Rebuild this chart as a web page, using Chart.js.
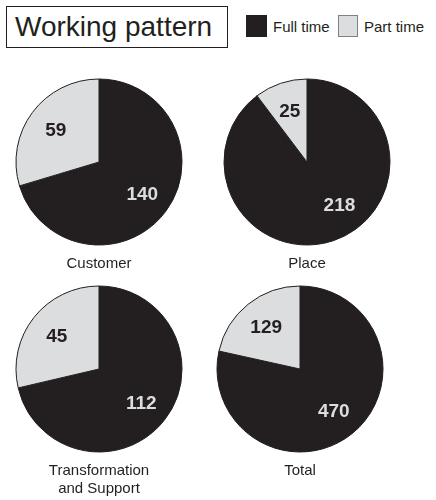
<!DOCTYPE html>
<html lang="en">
<head>
  <meta charset="UTF-8" />
  <title>Working pattern</title>
  <script src="https://cdn.jsdelivr.net/npm/chart.js"></script>
  <style>
    body {
      margin: 0;
      width: 436px;
      height: 500px;
      overflow: hidden;
      background: #ffffff;
      color: #231f20;
      font-family: "Liberation Sans", Arial, sans-serif;
      position: relative;
    }
    .heading {
      position: absolute;
      left: 6px;
      top: 6px;
      width: 212px;
      height: 40px;
      border: 1.5px solid #231f20;
      font-size: 28px;
      line-height: 40px;
      padding-left: 8px;
      box-sizing: content-box;
    }
    .swatch {
      position: absolute;
      top: 15px;
      width: 21px;
      height: 22px;
      box-sizing: border-box;
    }
    .key {
      position: absolute;
      top: 18px;
      font-size: 15px;
      line-height: 18px;
      white-space: nowrap;
    }
    canvas {
      position: absolute;
    }
  </style>
</head>
<body>
  <div class="heading">Working pattern</div>

  <div class="swatch" id="sw-full" style="left: 246px;"></div>
  <span class="key" id="key-full" style="left: 273px;"></span>
  <div class="swatch" id="sw-part" style="left: 338px; width: 20px;"></div>
  <span class="key" id="key-part" style="left: 364px;"></span>

  <canvas id="pie0" width="196" height="196" style="left: 1px; top: 77px;"></canvas>
  <canvas id="pie1" width="196" height="196" style="left: 209px; top: 77px;"></canvas>
  <canvas id="pie2" width="196" height="214" style="left: 1px; top: 284px;"></canvas>
  <canvas id="pie3" width="196" height="196" style="left: 202px; top: 284px;"></canvas>

  <script>
    const groups = ["Customer", "Place", ["Transformation", "and Support"], "Total"];
    const seriesLabels = ["Full time", "Part time"];
    const fullTime = [140, 218, 112, 470];
    const partTime = [59, 25, 45, 129];

    const DARK = "#231f20";
    const LIGHT = "#dcddde";

    Chart.defaults.font.family = "'Liberation Sans', Arial, sans-serif";
    Chart.defaults.color = DARK;

    // legend built by hand, one shared key for all four pies
    document.getElementById("sw-full").style.background = DARK;
    document.getElementById("sw-part").style.background = LIGHT;
    document.getElementById("sw-part").style.border = "1px solid #808285";
    document.getElementById("key-full").textContent = seriesLabels[0];
    document.getElementById("key-part").textContent = seriesLabels[1];

    // writes each value inside its slice; big full-time slices keep the
    // number down in the lower right instead of sliding round to the bottom
    const sliceValues = {
      id: "sliceValues",
      afterDatasetsDraw(chart) {
        const ctx = chart.ctx;
        const meta = chart.getDatasetMeta(0);
        const values = chart.data.datasets[0].data;
        ctx.save();
        ctx.font = "bold 19px 'Liberation Sans', Arial, sans-serif";
        ctx.textAlign = "center";
        ctx.textBaseline = "middle";
        meta.data.forEach((arc, i) => {
          const p = arc.getProps(["x", "y", "startAngle", "endAngle", "outerRadius"], true);
          let mid = (p.startAngle + p.endAngle) / 2;
          if (i === 0) mid = Math.min(mid, (143 - 90) * Math.PI / 180);
          const r = p.outerRadius * 0.65;
          ctx.fillStyle = i === 0 ? LIGHT : DARK;
          ctx.fillText(values[i], p.x + Math.cos(mid) * r, p.y + Math.sin(mid) * r + 1);
        });
        ctx.restore();
      }
    };

    groups.forEach((name, i) => {
      new Chart(document.getElementById("pie" + i).getContext("2d"), {
        type: "pie",
        data: {
          labels: seriesLabels,
          datasets: [{
            data: [fullTime[i], partTime[i]],
            backgroundColor: [DARK, LIGHT],
            borderColor: DARK,
            borderWidth: 1,
            hoverOffset: 0
          }]
        },
        options: {
          responsive: false,
          animation: false,
          radius: 83,
          layout: { padding: 0 },
          plugins: {
            legend: { display: false },
            tooltip: { enabled: false },
            title: {
              display: true,
              position: "bottom",
              text: name,
              color: DARK,
              font: { size: 15, weight: "normal", lineHeight: 1.2 },
              padding: { top: 8, bottom: 0 }
            }
          }
        },
        plugins: [sliceValues]
      });
    });
  </script>
</body>
</html>
